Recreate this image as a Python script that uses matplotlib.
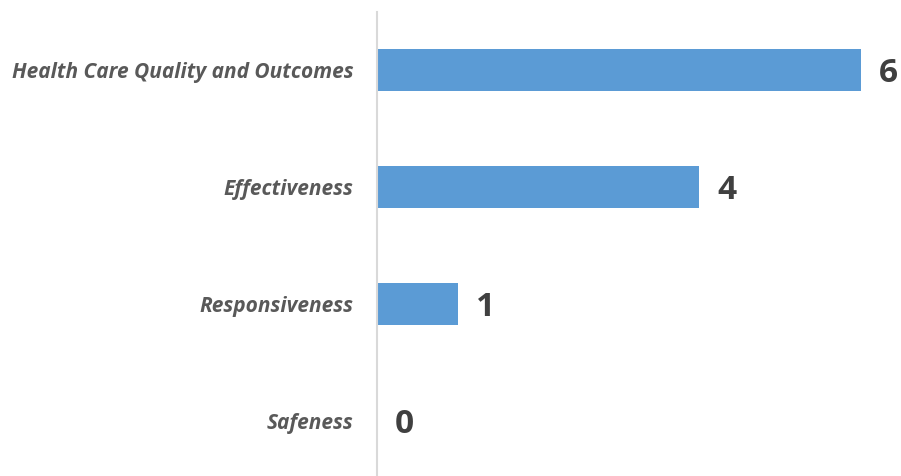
import matplotlib
matplotlib.use('Agg')
import matplotlib.pyplot as plt

categories = ['Health Care Quality and Outcomes', 'Effectiveness', 'Responsiveness', 'Safeness']
counts = [6, 4, 1, 0]

bar_color = '#5B9BD5'

fig = plt.figure(figsize=(9.01, 4.76), dpi=100)
ax = fig.add_axes([377 / 901, 0, 524 / 901, 464 / 476])

pos = list(range(len(categories)))
ax.barh(pos, counts, height=0.36, color=bar_color)

ax.set_xlim(0, 6.5)
ax.set_ylim(3.47, -0.496)

# value labels at bar ends
for y, v in zip(pos, counts):
    ax.annotate(str(v), (v, y), xytext=(13, -2.5), textcoords='offset points',
                ha='left', va='center', fontsize=24, fontweight='bold',
                color='#404040', family='Open Sans')

ax.set_yticks(pos)
ax.set_yticklabels(categories, fontsize=15, fontstyle='italic', fontweight='bold',
                   color='#595959', family='Open Sans')
ax.tick_params(axis='y', length=0, pad=17)
ax.set_xticks([])

for s in ['top', 'right', 'bottom']:
    ax.spines[s].set_visible(False)
ax.spines['left'].set_color('#D9D9D9')
ax.spines['left'].set_linewidth(1.5)

fig.savefig('out.png', dpi=100)
